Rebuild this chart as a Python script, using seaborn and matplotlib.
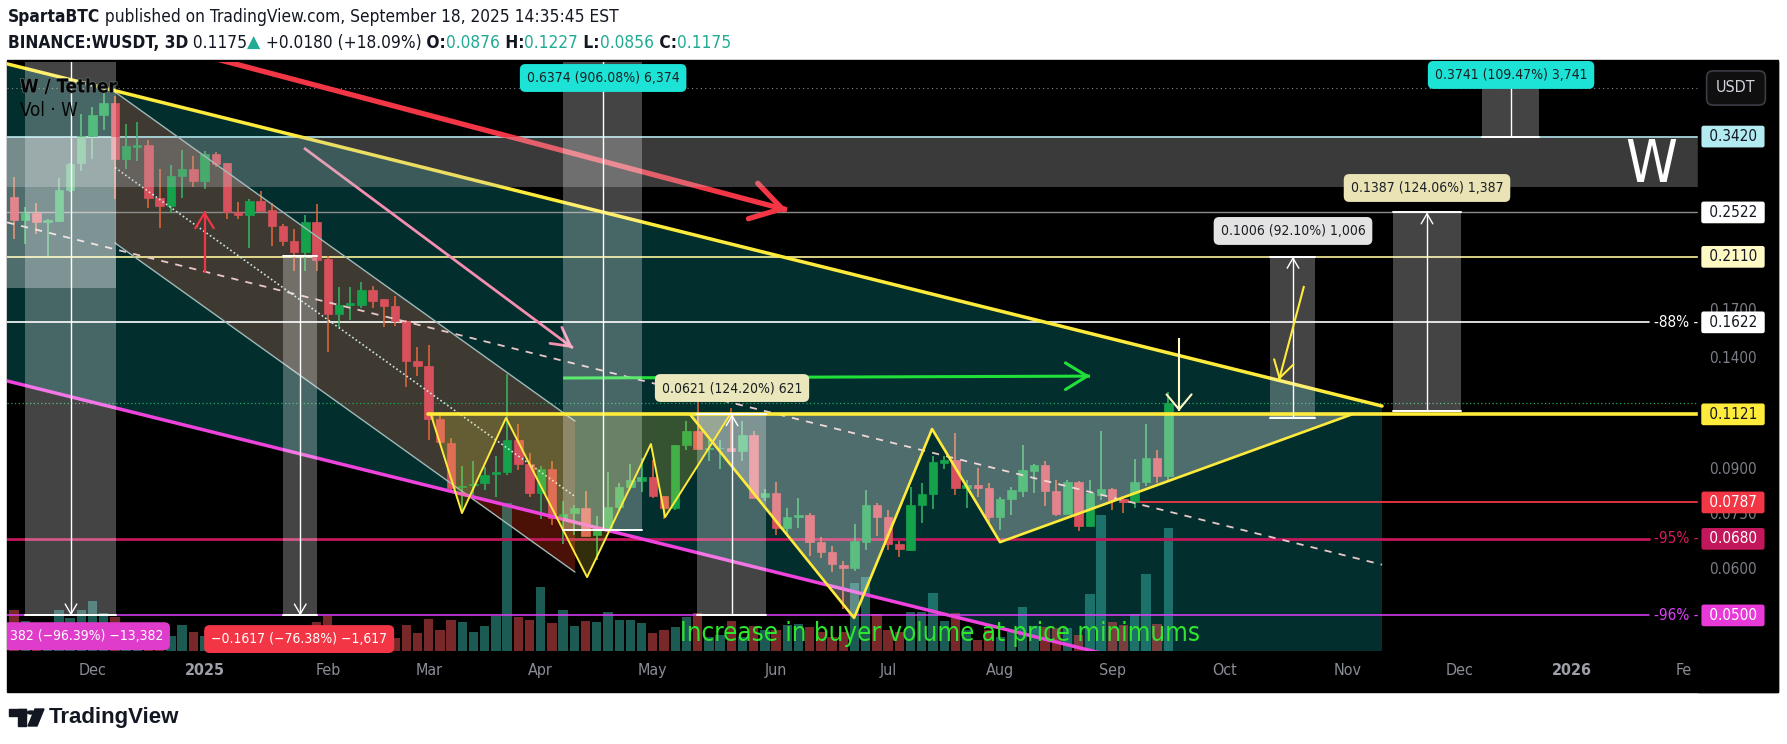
import numpy as np
import pandas as pd
import matplotlib
matplotlib.use("Agg")
import matplotlib.pyplot as plt
import matplotlib.dates as mdates
import matplotlib.transforms as mtransforms
import matplotlib.patheffects as pe
from matplotlib.patches import Rectangle, Circle, Polygon
from matplotlib import font_manager
import seaborn as sns

# ---------------- data (WUSDT, 3D bars) ----------------
bar_dates = pd.date_range(end="2025-09-16", periods=104, freq="3D")

opens = [0.268, 0.245, 0.252, 0.243, 0.244, 0.276, 0.307, 0.343, 0.373, 0.392,
         0.313, 0.328, 0.330, 0.267, 0.259, 0.292, 0.300, 0.286, 0.319, 0.307,
         0.253, 0.250, 0.264, 0.255, 0.239, 0.225, 0.215, 0.243, 0.209, 0.168,
         0.174, 0.174, 0.185, 0.178, 0.173, 0.163, 0.139, 0.136, 0.110, 0.100,
         0.0838, 0.0845, 0.0850, 0.0881, 0.0890, 0.101, 0.0918, 0.0818, 0.0900, 0.0735,
         0.0755, 0.0770, 0.0690, 0.0711, 0.0774, 0.0838, 0.0858, 0.0871, 0.0808, 0.0771,
         0.0990, 0.105, 0.0976, 0.0978, 0.0980, 0.0968, 0.103, 0.0805, 0.0817, 0.0710,
         0.0741, 0.0748, 0.0672, 0.0646, 0.0612, 0.0606, 0.0672, 0.0780, 0.0741, 0.0666,
         0.0650, 0.0780, 0.0815, 0.0922, 0.0935, 0.0833, 0.0844, 0.0833, 0.0741, 0.0797,
         0.0825, 0.0893, 0.0915, 0.0824, 0.0752, 0.0853, 0.0717, 0.0812, 0.0832, 0.0797,
         0.0787, 0.0853, 0.0940, 0.0876]
highs = [0.291, 0.258, 0.262, 0.246, 0.290, 0.308, 0.374, 0.385, 0.407, 0.402,
         0.359, 0.362, 0.338, 0.300, 0.305, 0.324, 0.316, 0.323, 0.321, 0.307,
         0.263, 0.266, 0.275, 0.262, 0.241, 0.236, 0.250, 0.261, 0.212, 0.187,
         0.187, 0.191, 0.188, 0.178, 0.180, 0.164, 0.147, 0.148, 0.113, 0.102,
         0.0910, 0.0930, 0.0908, 0.0950, 0.132, 0.108, 0.0960, 0.0910, 0.0930, 0.0790,
         0.0780, 0.0825, 0.0744, 0.0890, 0.0850, 0.0920, 0.0940, 0.0933, 0.0808, 0.0993,
         0.109, 0.118, 0.101, 0.101, 0.115, 0.109, 0.105, 0.0830, 0.0855, 0.0770,
         0.0800, 0.0755, 0.0685, 0.0660, 0.0623, 0.0723, 0.0827, 0.0785, 0.0764, 0.0674,
         0.0838, 0.0851, 0.0950, 0.0950, 0.104, 0.0861, 0.0904, 0.0851, 0.0805, 0.0837,
         0.0990, 0.0920, 0.0930, 0.0861, 0.0861, 0.0857, 0.0861, 0.105, 0.0835, 0.0800,
         0.0937, 0.108, 0.0971, 0.1227]
lows = [0.227, 0.222, 0.231, 0.212, 0.243, 0.274, 0.298, 0.312, 0.351, 0.266,
        0.300, 0.310, 0.257, 0.237, 0.252, 0.267, 0.279, 0.277, 0.303, 0.246,
        0.246, 0.219, 0.254, 0.220, 0.220, 0.199, 0.199, 0.199, 0.144, 0.159,
        0.164, 0.172, 0.172, 0.159, 0.160, 0.125, 0.131, 0.101, 0.100, 0.0827,
        0.0758, 0.0805, 0.0827, 0.0805, 0.0880, 0.0896, 0.0805, 0.0737, 0.0719, 0.0665,
        0.0690, 0.0688, 0.0625, 0.0700, 0.0760, 0.0827, 0.0820, 0.0800, 0.0737, 0.0764,
        0.0971, 0.0975, 0.0929, 0.0900, 0.0965, 0.0929, 0.0800, 0.0790, 0.0690, 0.0690,
        0.0710, 0.0635, 0.0630, 0.0595, 0.0514, 0.0598, 0.0650, 0.0689, 0.0650, 0.0632,
        0.0648, 0.0726, 0.0768, 0.0900, 0.0810, 0.0770, 0.0805, 0.0727, 0.0705, 0.0749,
        0.0805, 0.0818, 0.0776, 0.0745, 0.0750, 0.0703, 0.0714, 0.0795, 0.0762, 0.0754,
        0.0770, 0.0840, 0.0850, 0.0856]
closes = [0.245, 0.252, 0.243, 0.245, 0.276, 0.306, 0.343, 0.373, 0.392, 0.313,
          0.329, 0.330, 0.267, 0.259, 0.292, 0.300, 0.286, 0.319, 0.306, 0.253,
          0.250, 0.264, 0.254, 0.239, 0.225, 0.215, 0.243, 0.208, 0.168, 0.174,
          0.175, 0.185, 0.177, 0.173, 0.163, 0.139, 0.136, 0.110, 0.1005, 0.0835,
          0.0842, 0.0848, 0.0880, 0.0890, 0.101, 0.0918, 0.0818, 0.0900, 0.0738, 0.0751,
          0.0770, 0.0689, 0.0711, 0.0774, 0.0838, 0.0861, 0.0871, 0.0808, 0.0771, 0.0990,
          0.105, 0.0975, 0.0980, 0.0980, 0.0968, 0.103, 0.0800, 0.0817, 0.0710, 0.0741,
          0.0748, 0.0672, 0.0646, 0.0615, 0.0606, 0.0675, 0.0780, 0.0741, 0.0666, 0.0652,
          0.0780, 0.0815, 0.0926, 0.0935, 0.0833, 0.0844, 0.0833, 0.0741, 0.0798, 0.0827,
          0.0896, 0.0915, 0.0824, 0.0752, 0.0853, 0.0717, 0.0817, 0.0832, 0.0795, 0.0787,
          0.0853, 0.0940, 0.0876, 0.1175]
# volume, in units where 589 = full pane height
volumes = [41, 30, 25, 28, 41, 33, 41, 50, 38, 34,
           20, 18, 25, 22, 15, 26, 19, 15, 12, 14,
           12, 10, 12, 15, 14, 16, 25, 29, 35, 18,
           12, 10, 8, 11, 13, 26, 18, 32, 21, 31,
           29, 19, 25, 35, 148, 34, 31, 64, 28, 41,
           25, 30, 29, 39, 31, 31, 28, 18, 21, 24,
           34, 38, 14, 16, 30, 14, 25, 21, 21, 26,
           27, 24, 19, 14, 19, 68, 74, 37, 21, 19,
           39, 39, 58, 30, 38, 21, 11, 21, 14, 19,
           44, 25, 24, 23, 23, 16, 57, 136, 29, 26,
           37, 77, 27, 123]
VOL_SPAN = 589

# horizontal levels / price-scale labels
level_prices = [0.3420, 0.2522, 0.2110, 0.1622, 0.1121, 0.0787, 0.0680, 0.0500]
level_line_colors = ["#b2ebf2", "#8c8c8c", "#fff59d", "#ffffff", "#ffeb3b", "#f23645", "#c2185b", "#e040fb"]
level_box_colors = ["#b2ebf2", "#ffffff", "#fff9c4", "#ffffff", "#ffeb3b", "#f23645", "#c2185b", "#e83ad8"]
level_text_colors = ["#131722", "#131722", "#131722", "#131722", "#131722", "#ffffff", "#ffffff", "#ffffff"]
level_widths = [1.2, 1.0, 1.2, 1.2, 2.6, 1.3, 2.0, 1.1]
plain_prices = [0.1700, 0.1400, 0.0900, 0.0750, 0.0600]

tag_prices = [0.1622, 0.0680, 0.0500]
tag_texts = ["-88% -", "-95% -", "-96% -"]
tag_colors = ["#ffffff", "#d81b60", "#e040fb"]

month_starts = ["2024-12-01", "2025-01-01", "2025-02-01", "2025-03-01", "2025-04-01", "2025-05-01",
                "2025-06-01", "2025-07-01", "2025-08-01", "2025-09-01", "2025-10-01", "2025-11-01",
                "2025-12-01", "2026-01-01", "2026-02-01"]
month_labels = ["Dec", "2025", "Feb", "Mar", "Apr", "May", "Jun", "Jul", "Aug", "Sep", "Oct", "Nov",
                "Dec", "2026", "Fe"]

# W patterns (date, price)
w_left_dates = ["2025-03-02 14:00", "2025-03-10 22:00", "2025-03-22 17:00", "2025-04-13 10:00",
                "2025-04-30 12:00", "2025-05-04 07:00", "2025-05-21 17:00"]
w_left_prices = [0.1121, 0.0754, 0.1105, 0.0583, 0.0995, 0.0742, 0.1121]
w_right_dates = ["2025-05-10 23:00", "2025-06-23 21:00", "2025-07-14 18:00", "2025-08-01 23:00",
                 "2025-11-04 04:00"]
w_right_prices = [0.1121, 0.0495, 0.1057, 0.0671, 0.1121]

# price-range tools: (start, end, centre, from, to, label, label date, label price, box colour)
ranges = [
    ("2024-11-13 23:00", "2024-12-08 07:00", "2024-11-26 06:00", 1.3882, 0.0500, None, None, None, None),
    ("2025-01-22 01:00", "2025-01-31 04:00", "2025-01-26 15:00", 0.2117, 0.0500,
     "\u22120.1617 (\u221276.38%) \u22121,617", "2025-01-26 08:00", 0.04547, "#f23645"),
    ("2025-04-07 00:00", "2025-04-28 02:00", "2025-04-17 17:00", 0.0705, 0.7079,
     "0.6374 (906.08%) 6,374", "2025-04-17 17:00", 0.4327, "#1de3d6"),
    ("2025-05-12 19:00", "2025-05-31 07:00", "2025-05-22 05:00", 0.0500, 0.1121,
     "0.0621 (124.20%) 621", "2025-05-22 05:00", 0.1246, "#e9e7bb"),
    ("2025-10-13 06:00", "2025-10-25 07:00", "2025-10-19 09:00", 0.1104, 0.2110,
     "0.1006 (92.10%) 1,006", "2025-10-19 09:00", 0.2341, "#e3e3e3"),
    ("2025-11-15 04:00", "2025-12-03 09:00", "2025-11-24 06:00", 0.1135, 0.2522,
     "0.1387 (124.06%) 1,387", "2025-11-24 06:00", 0.2782, "#e9e3b5"),
    ("2025-12-08 23:00", "2025-12-24 06:00", "2025-12-16 18:00", 0.3420, 0.7161,
     "0.3741 (109.47%) 3,741", "2025-12-16 18:00", 0.4380, "#1de3d6"),
]

XL, XR = "2024-11-09 03:00", "2026-02-04 19:00"
CH_END = "2025-11-12 05:00"


def dn(s):
    return mdates.date2num(pd.Timestamp(s))


# ---------------- fonts ----------------
sns.set_theme(style="dark")
_fonts = {(f.name, f.stretch) for f in font_manager.fontManager.ttflist}
if any(n == "Liberation Sans Narrow" for n, s in _fonts):
    NF = dict(fontfamily="Liberation Sans Narrow")
elif ("DejaVu Sans", "condensed") in _fonts:
    NF = dict(fontfamily="DejaVu Sans", fontstretch="condensed")
else:
    NF = dict(fontfamily="Liberation Sans")
plt.rcParams["font.family"] = ["Liberation Sans", "DejaVu Sans"]

W, H = 1787, 744
fig = plt.figure(figsize=(W / 100, H / 100), dpi=100, facecolor="white")


def fx(px):
    return px / W


def fy(py):
    return 1 - py / H


fig.add_artist(Rectangle((fx(7), fy(692)), fx(1778) - fx(7), fy(60) - fy(692),
                         transform=fig.transFigure, color="black", zorder=-10))

ax = fig.add_axes([fx(7), fy(651), fx(1698) - fx(7), fy(62) - fy(651)])
ax.set_facecolor("black")
ax.set_yscale("log")
ax.set_xlim(dn(XL), dn(XR))
ax.set_ylim(0.04334, 0.4614)
ax.grid(False)
for s in ax.spines.values():
    s.set_visible(False)
ax.set_yticks([])
ax.set_yticks([], minor=True)
ax.tick_params(axis="y", which="both", left=False, right=False, labelleft=False)

# big falling channel (teal fill) between yellow top and magenta bottom
ch_x = [dn(XL), dn(CH_END)]
ax.fill([ch_x[0], ch_x[1], ch_x[1], ch_x[0]], [0.458, 0.1159, 0.03245, 0.1282],
        color="#032e2e", lw=0, zorder=1)

# brown descending channel
bx = [dn("2024-12-08 01:00"), dn("2025-04-10 04:00")]
ax.fill([bx[0], bx[1], bx[1], bx[0]], [0.409, 0.1091, 0.0595, 0.2231], color="#3e3a32", lw=0, zorder=1.2)
ax.fill([dn("2025-03-12 12:00"), bx[1], bx[1]], [0.0807, 0.0726, 0.0595], color="#4b1006", lw=0, zorder=1.3)

# volume (overlay at the bottom of the pane)
xd = mdates.date2num(bar_dates)
o, h, l, c = map(np.array, (opens, highs, lows, closes))
up = c >= o
vol_tr = mtransforms.blended_transform_factory(ax.transData, ax.transAxes)
ax.bar(xd, np.array(volumes) / VOL_SPAN, width=2.5, bottom=0,
       color=np.where(up, "#38b4a8", "#f05050"), alpha=0.5, lw=0, transform=vol_tr, zorder=1.5)

# horizontal levels
starts = [XL, XL, XL, XL, "2025-03-01 19:00", "2025-09-03 02:00", XL, XL]
ends = [XR, XR, XR, "2026-01-22 16:00", XR, XR, "2026-01-22 16:00", "2026-01-22 16:00"]
for p, col, lw, s0, s1 in zip(level_prices, level_line_colors, level_widths, starts, ends):
    ax.plot([dn(s0), dn(s1)], [p, p], color=col, lw=lw, zorder=2.5 if p != 0.1121 else 5.6)
ax.axhline(0.4157, color="#8a8a8a", lw=0.8, ls=(0, (1, 3)), zorder=2.4)
ax.axhline(0.1175, color="#22a85a", lw=0.9, ls=(0, (1, 2)), zorder=2.4)

# candles
body_col = np.where(up, "#14a24b", "#d8505c")
wick_col = np.where(up, "#35b862", "#e8683a")
ax.vlines(xd, l, h, colors=wick_col, lw=1.1, zorder=3)
ax.bar(xd, np.abs(c - o), bottom=np.minimum(o, c), width=2.25, color=body_col,
       edgecolor=body_col, lw=0.5, zorder=3.2)

# channel lines
ax.plot(ch_x, [0.458, 0.1159], color="#ffeb3b", lw=2.5, zorder=4.2)
ax.plot(ch_x, [0.1282, 0.03245], color="#ee44dd", lw=2.5, zorder=4.2)
ax.plot(ch_x, [0.2423, 0.0613], color="#e8c8c8", lw=1.3, ls=(0, (4, 4)), zorder=4)
ax.plot(bx, [0.409, 0.1091], color="#9fb8b8", lw=1.0, zorder=4)
ax.plot(bx, [0.2231, 0.0595], color="#9fb8b8", lw=1.0, zorder=4)
ax.plot(bx, [0.302, 0.0806], color="#cfe6e6", lw=1.2, ls=(0, (1, 1.5)), zorder=4)


def arrow(d0, y0, d1, y1, color, lw, hl, hw, z=4.5):
    x0, x1 = dn(d0), dn(d1)
    ax.plot([x0, x1], [y0, y1], color=color, lw=lw, zorder=z, solid_capstyle="butt")
    p0 = ax.transData.transform((x0, y0))
    p1 = ax.transData.transform((x1, y1))
    u = (p1 - p0) / np.hypot(*(p1 - p0))
    ax.annotate("", xy=(x1, y1), xytext=(-u[0] * 2, -u[1] * 2), textcoords="offset points",
                arrowprops=dict(arrowstyle=f"->,head_length={hl},head_width={hw}", color=color,
                                lw=lw, shrinkA=0, shrinkB=0), zorder=z)


arrow("2025-01-02 14:00", 0.470, "2025-06-05 22:00", 0.2547, "#f23645", 3.8, 1.8, 1.1)
arrow("2025-01-27 15:00", 0.3267, "2025-04-09 15:00", 0.1463, "#f48fb1", 2.0, 1.1, 0.6)
arrow("2025-01-01 00:00", 0.1977, "2025-01-01 00:00", 0.2536, "#f23645", 1.6, 0.9, 0.55)
arrow("2025-04-07 00:00", 0.1297, "2025-08-26 01:00", 0.1307, "#22e03a", 2.2, 1.3, 0.8)
arrow("2025-09-18 21:00", 0.1523, "2025-09-18 21:00", 0.1136, "#fff9c4", 1.5, 0.9, 0.75, z=6)
arrow("2025-10-22 08:00", 0.1877, "2025-10-15 15:00", 0.1287, "#ffeb3b", 1.5, 1.0, 0.6, z=6)

# translucent overlays
ax.fill_between([dn(XL), dn(XR)], 0.2793, 0.3420, color="#c1c1c1", alpha=0.3, lw=0, zorder=5)
ax.fill_between([dn(XL), dn("2024-12-08 07:00")], 0.1862, 0.3420, color="white", alpha=0.3, lw=0, zorder=5)

wlx = [dn(d) for d in w_left_dates]
wrx = [dn(d) for d in w_right_dates]
ax.fill(wlx, w_left_prices, color="#ffeb3b", alpha=0.2, lw=0, zorder=5)
ax.fill(wrx, w_right_prices, color="white", alpha=0.3, lw=0, zorder=5)
sns.lineplot(x=wlx, y=w_left_prices, sort=False, estimator=None, color="#ffeb3b", lw=1.4, ax=ax, zorder=5.5)
sns.lineplot(x=wrx, y=w_right_prices, sort=False, estimator=None, color="#ffeb3b", lw=1.9, ax=ax, zorder=5.5)

for s0, s1, sc, pa, pb, lab, ld, lp, bc in ranges:
    x0, x1 = dn(s0), dn(s1)
    ax.fill_between([x0, x1], min(pa, pb), max(pa, pb), color="white", alpha=0.27, lw=0, zorder=5)
    for p in (pa, pb):
        ax.plot([x0, x1], [p, p], color="white", lw=1.4, zorder=5.7)
    arrow(sc, pa, sc, pb, "white", 1.0, 0.6, 0.35, z=5.7)
    if lab:
        ax.text(dn(ld), lp, lab, ha="center", va="center", fontsize=10, color="#ffffff" if bc == "#f23645" else "#1b1f24",
                bbox=dict(boxstyle="round,pad=0.5,rounding_size=0.4", fc=bc, ec="none"), zorder=8, **NF)
ax.text(dn("2024-11-09 20:00"), 0.0460, "382 (\u221296.39%) \u221213,382", ha="left", va="center", fontsize=10,
        color="white", clip_on=True, bbox=dict(boxstyle="round,pad=0.5,rounding_size=0.4", fc="#e03ccc", ec="none"),
        zorder=8, **NF)

# line-end tags
for p, t, col in zip(tag_prices, tag_texts, tag_colors):
    ax.text(dn("2026-01-30 00:00"), p, t, ha="center", va="center", fontsize=11, color=col, zorder=8, **NF)

# legend
ax.text(0.0077, 0.9576, "W / Tether", transform=ax.transAxes, fontsize=13.5, color="#050505", va="center",
        fontweight="bold", path_effects=[pe.withStroke(linewidth=1.0, foreground="#5f6f6f")], zorder=9, **NF)
ax.text(0.0077, 0.9185, "Vol \u00b7 W", transform=ax.transAxes, fontsize=13.5, color="#050505", va="center",
        zorder=9, **NF)

# time axis
ext = pd.date_range(bar_dates[0], periods=170, freq="3D")
tick_pos = [ext[ext >= pd.Timestamp(m)][0] for m in month_starts]
ax.set_xticks(mdates.date2num(tick_pos))
ax.set_xticklabels(month_labels)
ax.tick_params(axis="x", length=0, pad=8.5, labelsize=11.5, labelcolor="#8a8d96")
for lab in ax.get_xticklabels():
    lab.set_fontfamily(NF["fontfamily"])
    if "fontstretch" in NF:
        lab.set_fontstretch(NF["fontstretch"])
    if lab.get_text() in ("2025", "2026"):
        lab.set_fontweight("bold")
        lab.set_color("#9da0a8")
ax.set_xlabel("")
ax.set_ylabel("")

# price axis (black strip covering anything spilling past the pane)
ax.add_patch(Rectangle((1.0, -0.0696), (1778 - 1698) / (1698 - 7), 1.0696, transform=ax.transAxes,
                       color="black", clip_on=False, zorder=20))
ytr = mtransforms.blended_transform_factory(ax.transAxes, ax.transData)
xl = (1733 - 7) / (1698 - 7)
for p in plain_prices:
    ax.text(xl, p, f"{p:.4f}", transform=ytr, ha="center", va="center", fontsize=11, color="#7c7f88",
            clip_on=False, zorder=21, **NF)
for p, bg, fg in zip(level_prices, level_box_colors, level_text_colors):
    ax.text(xl, p, f" {p:.4f} ", transform=ytr, ha="center", va="center", fontsize=11, color=fg,
            clip_on=False, zorder=22, bbox=dict(boxstyle="round,pad=0.22,rounding_size=0.15", fc=bg, ec="none"), **NF)

# other chart texts
fig.text(fx(1651), fy(166), "W", fontsize=42, color="white", ha="center", va="center", zorder=5, **NF)
fig.text(fx(1736), fy(88), "USDT", fontsize=11.5, color="#d1d4dc", ha="center", va="center", zorder=5,
         bbox=dict(boxstyle="round,pad=0.6,rounding_size=0.4", fc="#0f0f0f", ec="#3a3d45", lw=1.2), **NF)
fig.text(fx(680), fy(634), "Increase in buyer volume at price minimums", fontsize=18.5, color="#2ee62e",
         ha="left", va="center", zorder=5, **NF)

# header
renderer = fig.canvas.get_renderer()


def text_run(x_px, y_px, parts, size):
    x = x_px
    for s, col, bold, fam in parts:
        kw = dict(NF) if fam is None else dict(fontfamily=fam)
        t = fig.text(fx(x), fy(y_px), s, fontsize=size, color=col, fontweight="bold" if bold else "normal",
                     ha="left", va="center", **kw)
        x += t.get_window_extent(renderer=renderer).width


DARK, TEAL = "#131722", "#22ab94"
text_run(8, 17, [("SpartaBTC", DARK, True, None),
                 (" published on TradingView.com, September 18, 2025 14:35:45 EST", DARK, False, None)], 12.4)
text_run(8, 43, [("BINANCE:WUSDT, 3D", DARK, True, None), (" 0.1175", DARK, False, None),
                 ("\u25b2", TEAL, False, "DejaVu Sans"), (" +0.0180 (+18.09%)", DARK, False, None),
                 (" O:", DARK, True, None), ("0.0876", TEAL, False, None),
                 (" H:", DARK, True, None), ("0.1227", TEAL, False, None),
                 (" L:", DARK, True, None), ("0.0856", TEAL, False, None),
                 (" C:", DARK, True, None), ("0.1175", TEAL, False, None)], 12.4)

# TradingView logo
for patch in [Rectangle((fx(9), fy(716)), fx(26) - fx(9), fy(709) - fy(716)),
              Rectangle((fx(18), fy(726)), fx(26) - fx(18), fy(709) - fy(726)),
              Circle((fx(31), fy(712.5)), 3.6 / W),
              Polygon([(fx(35), fy(709)), (fx(44), fy(709)), (fx(37), fy(726)), (fx(28), fy(726))])]:
    patch.set_transform(fig.transFigure)
    patch.set_color("#131722")
    fig.add_artist(patch)
fig.text(fx(49), fy(717), "TradingView", fontsize=16, fontweight="bold", color="#131722", va="center",
         fontfamily="Liberation Sans")

fig.savefig("out.png", dpi=100, facecolor="white")
